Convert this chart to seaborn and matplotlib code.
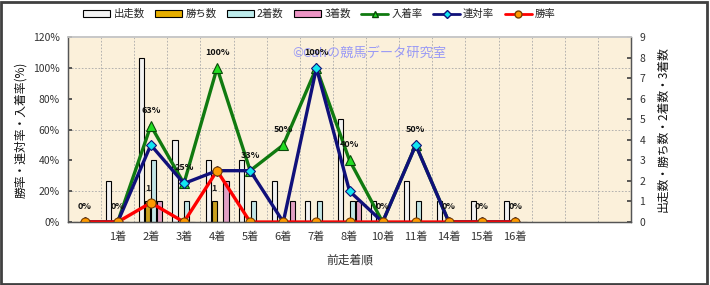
import numpy as np
import pandas as pd
import matplotlib
matplotlib.use('Agg')
import matplotlib.pyplot as plt
import seaborn as sns
from matplotlib.patches import Patch, Rectangle
from matplotlib.lines import Line2D
from matplotlib.ticker import FuncFormatter

sns.set_theme(style='white')
plt.rcParams['font.family'] = ['Noto Sans CJK JP', 'DejaVu Sans']

# 前走着順ごとのデータ
labels = ['', '1着', '2着', '3着', '4着', '5着', '6着', '7着', '8着',
          '10着', '11着', '14着', '15着', '16着']
runs = [0, 2, 8, 4, 3, 3, 2, 1, 5, 1, 2, 1, 1, 1]
wins = [0, 0, 1, 0, 1, 0, 0, 0, 0, 0, 0, 0, 0, 0]
seconds = [0, 0, 3, 1, 0, 1, 0, 1, 1, 0, 1, 0, 0, 0]
thirds = [0, 0, 1, 0, 2, 0, 1, 0, 1, 0, 0, 0, 0, 0]
place_rate = [0, 0, 62.5, 25, 100, 33.3, 50, 100, 40, 0, 50, 0, 0, 0]
rentai_rate = [0, 0, 50, 25, 33.3, 33.3, 0, 100, 20, 0, 50, 0, 0, 0]
win_rate = [0, 0, 12.5, 0, 33.3, 0, 0, 0, 0, 0, 0, 0, 0, 0]
place_text = ['0%', '0%', '63%', '25%', '100%', '33%', '50%', '100%', '40%',
              '0%', '50%', '0%', '0%', '0%']

bar_names = ['出走数', '勝ち数', '2着数', '3着数']
bar_colors = ['#F2F2F2', '#E6AE00', '#BDEBEB', '#EC94C4']
n_slots = 17

df = pd.DataFrame({'着順': labels, '出走数': runs, '勝ち数': wins,
                   '2着数': seconds, '3着数': thirds})
df = df.melt(id_vars='着順', var_name='種別', value_name='数')

fig = plt.figure(figsize=(7.1, 2.85), dpi=100)
ax = fig.add_axes([0.0958, 0.221, 0.793, 0.649])
ax.set_facecolor('#FBF0DA')

sns.barplot(data=df, x='着順', y='数', hue='種別', order=labels,
            hue_order=bar_names, palette=bar_colors, width=0.72, gap=0.15,
            edgecolor='black', linewidth=0.8, errorbar=None, legend=False,
            ax=ax, zorder=2)

# 勝ち数ラベル
gold = ax.containers[1]
ax.bar_label(gold, labels=[f'{int(b.get_height())}' if b.get_height() > 0 else ''
                           for b in gold],
             padding=6, fontsize=6.5, fontweight='bold', color='#222222')

ax2 = ax.twinx()
ax.yaxis.tick_right()
ax.yaxis.set_label_position('right')
ax2.yaxis.tick_left()
ax2.yaxis.set_label_position('left')

pos = np.arange(len(labels))
sns.lineplot(x=pos, y=place_rate, ax=ax2, color='#107A10', lw=2.4,
             marker='^', markersize=7, mfc='#22DD22', mec='#0A4A0A', mew=0.8)
sns.lineplot(x=pos, y=rentai_rate, ax=ax2, color='#10107A', lw=2.4,
             marker='D', markersize=5, mfc='#11E5F0', mec='#10107A', mew=0.8)
sns.lineplot(x=pos, y=win_rate, ax=ax2, color='#FF0000', lw=2.4,
             marker='o', markersize=6.5, mfc='#FF9A00', mec='#7A4000', mew=0.8)

for i, t in enumerate(place_text):
    ax2.annotate(t, (pos[i], place_rate[i]), xytext=(0, 8),
                 textcoords='offset points', ha='center', va='bottom',
                 fontsize=6.5, fontweight='bold', color='#111111')

# 軸の設定
ax.set_xlim(-0.5, n_slots - 0.5)
ax.set_ylim(0, 9)
ax.set_yticks(range(10))
ax.set_xticks(np.arange(0.5, n_slots - 1, 1), minor=True)
ax.set_yticks(np.arange(1.5, 9, 1.5), minor=True)
ax.grid(which='minor', color='#A8A8A8', linestyle=(0, (2, 2)), linewidth=0.6)
ax.grid(which='major', visible=False)
ax.set_axisbelow(True)
ax.tick_params(axis='x', which='both', length=0, pad=7, labelsize=8,
               labelcolor='#333333')
ax.tick_params(axis='y', which='minor', length=0)
ax.tick_params(axis='y', which='major', direction='in', length=3,
               labelsize=7.5, labelcolor='#333333', color='#444444', pad=6)
ax.set_xlabel('前走着順', fontsize=8.5, color='#333333', labelpad=8)
ax.set_ylabel('出走数・勝ち数・2着数・3着数', fontsize=8.5, color='#111111',
              labelpad=8)

ax2.set_xlim(-0.5, n_slots - 0.5)
ax2.set_ylim(0, 120)
ax2.set_yticks(range(0, 121, 20))
ax2.yaxis.set_major_formatter(FuncFormatter(lambda v, p: f'{int(v)}%'))
ax2.tick_params(axis='y', direction='in', length=3, labelsize=7.5,
                labelcolor='#333333', color='#444444', pad=6)
ax2.set_ylabel('勝率・連対率・入着率(%)', fontsize=8.5, color='#111111',
               labelpad=4)

for a in (ax, ax2):
    for s in ['left', 'right', 'bottom']:
        a.spines[s].set_color('#555555')
        a.spines[s].set_linewidth(0.9)
    a.spines['top'].set_color('#C8C8C8')

ax.text(0.398, 0.91, '©Cahの競馬データ研究室', transform=ax.transAxes,
        fontsize=9.5, color='#9A9AF5', ha='left', va='center', zorder=1)

handles = [Patch(facecolor=c, edgecolor='black', linewidth=0.8) for c in bar_colors]
handles += [
    Line2D([], [], color='#107A10', lw=2, marker='^', ms=5, mfc='#22DD22', mec='#0A4A0A'),
    Line2D([], [], color='#10107A', lw=2, marker='D', ms=4, mfc='#11E5F0', mec='#10107A'),
    Line2D([], [], color='#FF0000', lw=2, marker='o', ms=5, mfc='#FF9A00', mec='#7A4000'),
]
names = bar_names + ['入着率', '連対率', '勝率']
fig.legend(handles, names, loc='center', bbox_to_anchor=(0.45, 0.951), ncol=7,
           frameon=False, fontsize=7.5, handlelength=2.6, handleheight=0.6,
           columnspacing=1.0, handletextpad=0.3)

fig.add_artist(Rectangle((0.002, 0.004), 0.994, 0.99, transform=fig.transFigure,
                         fill=False, edgecolor='#404040', linewidth=2))

fig.savefig('out.png', dpi=100)
